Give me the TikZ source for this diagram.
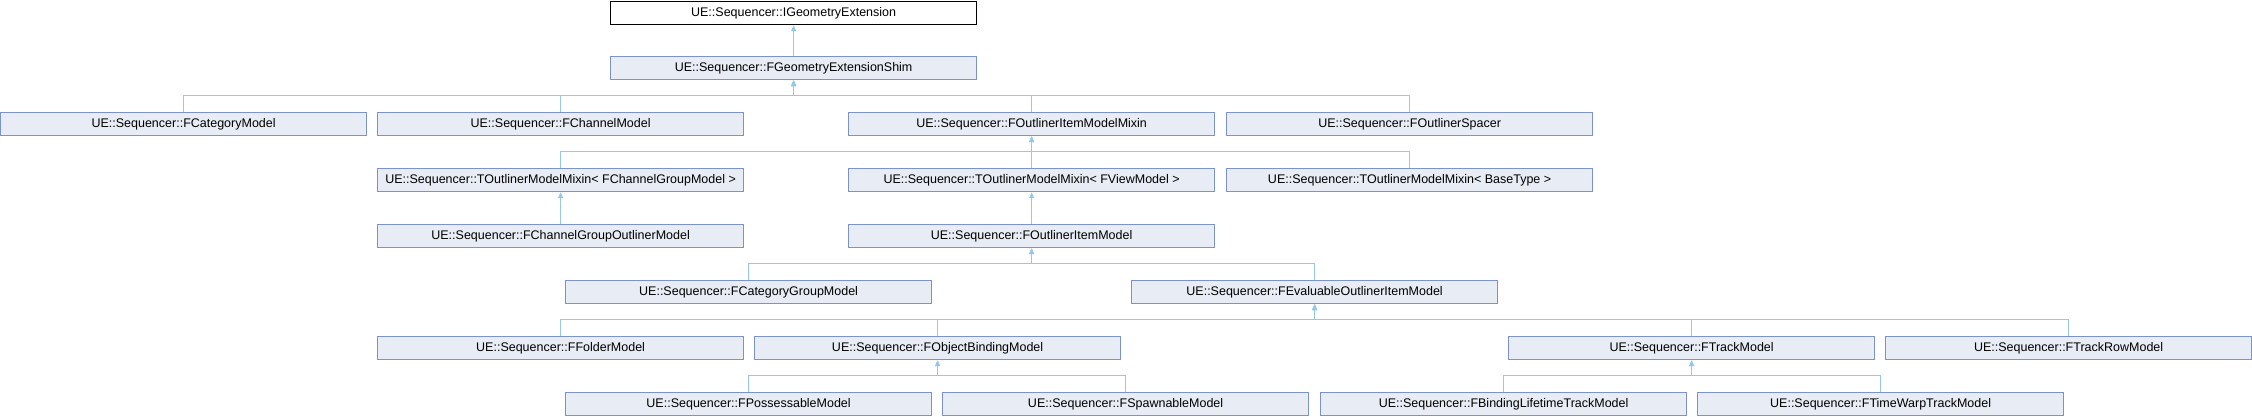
\documentclass[tikz,border=0pt]{standalone}
\usepackage{fontspec}
\setmainfont{Liberation Sans}
\usetikzlibrary{arrows.meta}
\definecolor{boxfill}{RGB}{232,236,244}
\definecolor{boxline}{RGB}{124,146,204}
\definecolor{connline}{RGB}{150,200,234}
\tikzset{
  cls/.style={draw=boxline, fill=boxfill, line width=1.2pt, minimum width=366pt, minimum height=23pt,
    inner sep=0pt, anchor=north west, font=\fontsize{12.5}{14}\selectfont},
  rootcls/.style={cls, draw=black, fill=white},
  conn/.style={draw=connline, line width=1pt, -{Triangle[length=6pt,width=5pt]}}
}
\begin{document}
\begin{tikzpicture}[x=1pt,y=-1pt]
\useasboundingbox (0,0) rectangle (2252,416);
\node[rootcls] (ige) at (610,1) {UE::Sequencer::IGeometryExtension};
\node[cls] (shim) at (610,56) {UE::Sequencer::FGeometryExtensionShim};
\node[cls] (catm) at (0,112) {UE::Sequencer::FCategoryModel};
\node[cls] (chan) at (377,112) {UE::Sequencer::FChannelModel};
\node[cls] (mixin) at (848,112) {UE::Sequencer::FOutlinerItemModelMixin};
\node[cls] (spacer) at (1226,112) {UE::Sequencer::FOutlinerSpacer};
\node[cls] (tcg) at (377,168) {UE::Sequencer::TOutlinerModelMixin< FChannelGroupModel >};
\node[cls] (tvm) at (848,168) {UE::Sequencer::TOutlinerModelMixin< FViewModel >};
\node[cls] (tbt) at (1226,168) {UE::Sequencer::TOutlinerModelMixin< BaseType >};
\node[cls] (cgo) at (377,224) {UE::Sequencer::FChannelGroupOutlinerModel};
\node[cls] (oim) at (848,224) {UE::Sequencer::FOutlinerItemModel};
\node[cls] (cgm) at (565,280) {UE::Sequencer::FCategoryGroupModel};
\node[cls] (eoim) at (1131,280) {UE::Sequencer::FEvaluableOutlinerItemModel};
\node[cls] (folder) at (377,336) {UE::Sequencer::FFolderModel};
\node[cls] (obm) at (754,336) {UE::Sequencer::FObjectBindingModel};
\node[cls] (track) at (1508,336) {UE::Sequencer::FTrackModel};
\node[cls] (trackrow) at (1885,336) {UE::Sequencer::FTrackRowModel};
\node[cls] (poss) at (565,392) {UE::Sequencer::FPossessableModel};
\node[cls] (spawn) at (942,392) {UE::Sequencer::FSpawnableModel};
\node[cls] (blt) at (1320,392) {UE::Sequencer::FBindingLifetimeTrackModel};
\node[cls] (tw) at (1697,392) {UE::Sequencer::FTimeWarpTrackModel};
\foreach \c/\p in {shim/ige, catm/shim, chan/shim, mixin/shim, spacer/shim,
  tcg/mixin, tvm/mixin, tbt/mixin, cgo/tcg, oim/tvm, cgm/oim, eoim/oim,
  folder/eoim, obm/eoim, track/eoim, trackrow/eoim, poss/obm, spawn/obm,
  blt/track, tw/track}
  \draw[conn] (\c.north) -- ++(0,-16.5) -| (\p.south);
\end{tikzpicture}
\end{document}
